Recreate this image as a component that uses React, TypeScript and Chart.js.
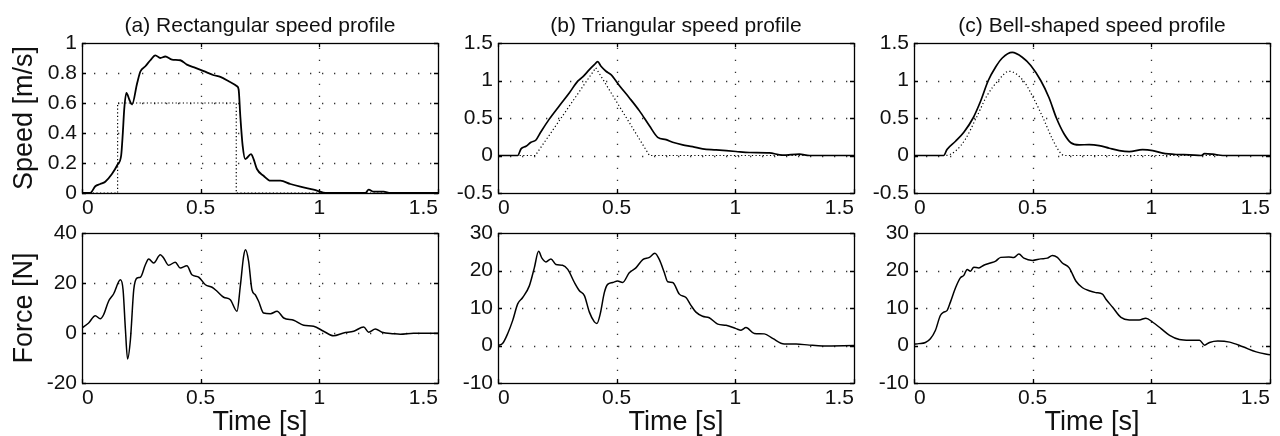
import React, { useEffect, useRef } from "react";
import { Chart, registerables } from "chart.js";

Chart.register(...registerables);

// ---------- tick values ----------
const timeTicks = [0, 0.5, 1, 1.5];
const speedTicksA = [0, 0.2, 0.4, 0.6, 0.8, 1];
const speedTicksBC = [-0.5, 0, 0.5, 1, 1.5];
const forceTicksA = [-20, 0, 20, 40];
const forceTicksBC = [-10, 0, 10, 20, 30];

const panelTitles = [
  "(a) Rectangular speed profile",
  "(b) Triangular speed profile",
  "(c) Bell-shaped speed profile",
];

// ---------- (a) rectangular ----------
const aSpeedT = [0, 0.035, 0.056, 0.077, 0.098, 0.126, 0.15, 0.165, 0.172, 0.178, 0.187, 0.2, 0.211, 0.232, 0.246, 0.267, 0.288, 0.309, 0.33, 0.351, 0.379, 0.414, 0.442, 0.478, 0.513, 0.555, 0.583, 0.618, 0.653, 0.66, 0.667, 0.677, 0.688, 0.712, 0.723, 0.737, 0.765, 0.794, 0.836, 0.878, 0.92, 0.976, 1.032, 1.194, 1.208, 1.229, 1.271, 1.299, 1.5];
const aSpeedV = [0, 0, 0.045, 0.06, 0.075, 0.126, 0.19, 0.25, 0.4, 0.56, 0.668, 0.62, 0.59, 0.73, 0.81, 0.845, 0.885, 0.918, 0.9, 0.91, 0.889, 0.885, 0.856, 0.834, 0.812, 0.785, 0.774, 0.745, 0.712, 0.69, 0.513, 0.314, 0.226, 0.259, 0.226, 0.16, 0.115, 0.082, 0.082, 0.06, 0.042, 0.022, 0, 0, 0.022, 0.009, 0.009, 0, 0];
const aRefT = [0, 0.15, 0.15, 0.65, 0.65, 1.5];
const aRefV = [0, 0, 0.6, 0.6, 0, 0];
const aForceT = [0, 0.028, 0.056, 0.077, 0.091, 0.112, 0.133, 0.162, 0.173, 0.183, 0.192, 0.204, 0.218, 0.232, 0.246, 0.267, 0.281, 0.302, 0.33, 0.344, 0.365, 0.393, 0.414, 0.442, 0.463, 0.492, 0.52, 0.548, 0.569, 0.597, 0.625, 0.653, 0.667, 0.681, 0.689, 0.702, 0.716, 0.73, 0.744, 0.765, 0.794, 0.822, 0.85, 0.892, 0.934, 0.976, 1.018, 1.06, 1.102, 1.145, 1.187, 1.208, 1.236, 1.264, 1.313, 1.341, 1.397, 1.5];
const aForceV = [2, 4, 6.9, 5.7, 7.3, 12.7, 15.6, 21.3, 17.3, 1.3, -10.4, -2.7, 17.3, 22, 22.3, 27.3, 29.6, 28, 31.3, 30, 27.1, 28.3, 26, 26.9, 23.3, 22.3, 19.3, 18.3, 16.7, 14.3, 13.3, 8.7, 18.7, 30.7, 33.3, 28.7, 17.3, 15.3, 12.7, 8, 7.7, 8.7, 6, 5.1, 3.1, 2.7, 0.7, -1.1, 0, 0.7, 2.4, 0.3, 1.6, 0.3, -0.3, -0.5, -0.1, -0.1];

// ---------- (b) triangular ----------
const bSpeedT = [0, 0.083, 0.097, 0.118, 0.139, 0.16, 0.181, 0.216, 0.258, 0.301, 0.336, 0.357, 0.385, 0.406, 0.42, 0.434, 0.455, 0.476, 0.511, 0.553, 0.596, 0.638, 0.673, 0.708, 0.736, 0.778, 0.82, 0.862, 0.919, 1.003, 1.059, 1.143, 1.199, 1.27, 1.312, 1.5];
const bSpeedV = [0, 0, 0.088, 0.123, 0.176, 0.207, 0.317, 0.485, 0.661, 0.837, 0.991, 1.048, 1.145, 1.211, 1.251, 1.189, 1.123, 1.079, 0.934, 0.771, 0.595, 0.396, 0.242, 0.211, 0.176, 0.141, 0.119, 0.088, 0.075, 0.053, 0.04, 0.035, 0.004, 0.018, 0, 0];
const bRefT = [0, 0.157, 0.412, 0.638, 1.5];
const bRefV = [0, 0, 1.17, 0, 0];
const bForceT = [0, 0.02, 0.041, 0.062, 0.083, 0.104, 0.132, 0.153, 0.171, 0.185, 0.202, 0.223, 0.244, 0.272, 0.294, 0.322, 0.343, 0.364, 0.385, 0.406, 0.417, 0.431, 0.448, 0.462, 0.483, 0.504, 0.525, 0.553, 0.581, 0.61, 0.638, 0.661, 0.68, 0.701, 0.715, 0.736, 0.764, 0.792, 0.813, 0.834, 0.862, 0.89, 0.926, 0.961, 1.003, 1.024, 1.045, 1.08, 1.122, 1.157, 1.206, 1.256, 1.312, 1.368, 1.5];
const bForceV = [0, 0.6, 3.2, 6.7, 11.1, 12.8, 15.9, 20.7, 25.1, 23.3, 22.3, 23.1, 21.6, 21.4, 20.3, 16.8, 14.6, 13.3, 8.9, 6.3, 5.9, 8.5, 14.1, 16.3, 16.8, 17.2, 16.8, 19.4, 20.7, 22.9, 23.5, 24.6, 22.9, 19.4, 17, 16.8, 13.7, 12.8, 10.7, 8.9, 7.8, 7.4, 5.7, 5.4, 4.5, 4.1, 4.8, 3.2, 3.1, 1.9, 0.4, 0.4, 0.1, -0.1, 0];

// ---------- (c) bell-shaped ----------
const cSpeedT = [0, 0.125, 0.139, 0.175, 0.21, 0.249, 0.28, 0.313, 0.344, 0.372, 0.414, 0.456, 0.492, 0.534, 0.569, 0.6, 0.632, 0.661, 0.696, 0.738, 0.78, 0.823, 0.865, 0.907, 0.963, 1.006, 1.048, 1.104, 1.161, 1.21, 1.224, 1.259, 1.301, 1.5];
const cSpeedV = [0, 0, 0.08, 0.19, 0.31, 0.5, 0.72, 1.0, 1.18, 1.3, 1.374, 1.31, 1.2, 1.0, 0.77, 0.5, 0.29, 0.17, 0.141, 0.145, 0.132, 0.097, 0.066, 0.053, 0.079, 0.066, 0.031, 0.013, 0.009, 0, 0.026, 0.018, 0, 0];
const cRefT = [0, 0.132, 0.175, 0.217, 0.262, 0.308, 0.355, 0.4, 0.46, 0.506, 0.544, 0.583, 0.611, 0.632, 1.5];
const cRefV = [0, 0, 0.06, 0.22, 0.5, 0.8, 1.0, 1.123, 1.0, 0.75, 0.5, 0.22, 0.06, 0, 0];
const cForceT = [0, 0.02, 0.048, 0.069, 0.09, 0.111, 0.125, 0.139, 0.153, 0.175, 0.196, 0.21, 0.224, 0.238, 0.252, 0.273, 0.294, 0.322, 0.344, 0.365, 0.4, 0.421, 0.442, 0.463, 0.499, 0.534, 0.562, 0.583, 0.604, 0.625, 0.654, 0.682, 0.71, 0.738, 0.766, 0.794, 0.808, 0.837, 0.872, 0.907, 0.949, 0.977, 1.006, 1.041, 1.077, 1.118, 1.161, 1.203, 1.224, 1.245, 1.28, 1.33, 1.386, 1.442, 1.5];
const cForceV = [0.35, 0.5, 0.8, 1.8, 4, 8, 8.9, 9.3, 11.5, 15.4, 18.1, 18.7, 20.3, 19.8, 20.9, 20.7, 21.4, 22, 22.5, 23.5, 23.6, 23.5, 24.4, 23.3, 22.7, 23.1, 23.3, 24, 23.5, 22, 20.7, 17.2, 15.4, 14.6, 14.1, 13.7, 12.4, 10.2, 7.5, 6.8, 6.8, 7.3, 6.2, 4.5, 2.7, 1.6, 1.4, 1.4, 0.1, 0.8, 1.2, 0.9, -0.35, -1.7, -2.5];

// ---------- styling ----------
const FONT = "'Liberation Sans', Arial, Helvetica, sans-serif";
const TEXT = "#111";

const matlabAxes = {
  id: "matlabAxes",
  beforeDatasetsDraw(chart: any) {
    const { ctx, chartArea: a, scales } = chart;
    const x = scales.x, y = scales.y;
    ctx.save();
    ctx.strokeStyle = "#333";
    ctx.lineWidth = 1.3;
    ctx.setLineDash([1.3, 10.7]);
    x.ticks.forEach((t: any) => {
      if (t.value <= x.min || t.value >= x.max) return;
      const px = Math.round(x.getPixelForValue(t.value)) + 0.5;
      ctx.beginPath();
      ctx.moveTo(px, a.bottom);
      ctx.lineTo(px, a.top);
      ctx.stroke();
    });
    y.ticks.forEach((t: any) => {
      if (t.value <= y.min || t.value >= y.max) return;
      const py = Math.round(y.getPixelForValue(t.value)) + 0.5;
      ctx.beginPath();
      ctx.moveTo(a.left, py);
      ctx.lineTo(a.right, py);
      ctx.stroke();
    });
    ctx.restore();
  },
  afterDatasetsDraw(chart: any) {
    const { ctx, chartArea: a, scales } = chart;
    const x = scales.x, y = scales.y;
    ctx.save();
    ctx.setLineDash([]);
    ctx.strokeStyle = "#000";
    ctx.lineWidth = 1.3;
    const L = 4;
    ctx.beginPath();
    x.ticks.forEach((t: any) => {
      const px = Math.round(x.getPixelForValue(t.value)) + 0.5;
      ctx.moveTo(px, a.bottom);
      ctx.lineTo(px, a.bottom - L);
      ctx.moveTo(px, a.top);
      ctx.lineTo(px, a.top + L);
    });
    y.ticks.forEach((t: any) => {
      const py = Math.round(y.getPixelForValue(t.value)) + 0.5;
      ctx.moveTo(a.left, py);
      ctx.lineTo(a.left + L, py);
      ctx.moveTo(a.right, py);
      ctx.lineTo(a.right - L, py);
    });
    ctx.stroke();
    ctx.strokeRect(Math.round(a.left) + 0.5, Math.round(a.top) + 0.5, Math.round(a.right - a.left), Math.round(a.bottom - a.top));
    ctx.restore();
  },
};

type Series = { t: number[]; v: number[]; dotted?: boolean; smooth?: boolean; width?: number };

type PanelProps = {
  left: number;
  top: number;
  width: number;
  height: number;
  padTop: number;
  xHeight: number;
  title?: string;
  yTitle?: string;
  xTitle?: string;
  yMin: number;
  yMax: number;
  yTicks: number[];
  series: Series[];
};

function Panel(p: PanelProps) {
  const ref = useRef<HTMLCanvasElement>(null);
  useEffect(() => {
    const chart = new Chart(ref.current as HTMLCanvasElement, {
      type: "line",
      data: {
        datasets: p.series.map((s) => ({
          data: s.t.map((t, i) => ({ x: t, y: s.v[i] })),
          borderColor: "#000",
          borderWidth: s.width ?? (s.dotted ? 1.2 : 1.5),
          borderDash: s.dotted ? [1.2, 2.4] : [],
          pointRadius: 0,
          fill: false,
          tension: 0,
          cubicInterpolationMode: s.smooth ? "monotone" : "default",
        })),
      },
      options: {
        responsive: false,
        animation: false,
        events: [],
        layout: { padding: { top: p.padTop, right: 10, left: 0, bottom: 0 } },
        plugins: {
          legend: { display: false },
          tooltip: { enabled: false },
          title: p.title
            ? {
                display: true,
                text: p.title,
                fullSize: false,
                color: TEXT,
                font: { family: FONT, size: 21, weight: "normal", lineHeight: 1.2 },
                padding: { top: 13.5, bottom: 4.3 },
              }
            : { display: false },
        },
        scales: {
          x: {
            type: "linear",
            min: 0,
            max: 1.5,
            afterBuildTicks: (s: any) => {
              s.ticks = timeTicks.map((v) => ({ value: v }));
            },
            afterFit: (s: any) => {
              s.height = p.xHeight;
            },
            grid: { display: false, drawTicks: false },
            border: { display: false },
            ticks: {
              color: TEXT,
              font: { family: FONT, size: 21 },
              padding: 3,
              align: "inner",
              maxRotation: 0,
              autoSkip: false,
              callback: (v: any) => String(v),
            },
            title: p.xTitle
              ? {
                  display: true,
                  text: p.xTitle,
                  color: TEXT,
                  font: { family: FONT, size: 27, lineHeight: 1 },
                  padding: { top: 0, bottom: 0 },
                }
              : { display: false },
          },
          y: {
            type: "linear",
            min: p.yMin,
            max: p.yMax,
            afterBuildTicks: (s: any) => {
              s.ticks = p.yTicks.map((v) => ({ value: v }));
            },
            afterFit: (s: any) => {
              s.width = 82;
            },
            grid: { display: false, drawTicks: false },
            border: { display: false },
            ticks: {
              color: TEXT,
              font: { family: FONT, size: 21 },
              padding: 5,
              autoSkip: false,
              callback: (v: any) => String(v),
            },
            title: p.yTitle
              ? {
                  display: true,
                  text: p.yTitle,
                  color: TEXT,
                  font: { family: FONT, size: 27, lineHeight: 1 },
                  padding: { top: 11.5, bottom: 0 },
                }
              : { display: false },
          },
        },
      } as any,
      plugins: [matlabAxes as any],
    });
    return () => chart.destroy();
  }, []);
  return (
    <canvas
      ref={ref}
      width={p.width}
      height={p.height}
      style={{ position: "absolute", left: p.left, top: p.top, width: p.width, height: p.height }}
    />
  );
}

const plotLefts = [82, 498, 914];
const PANEL_W = 82 + 356 + 10;

export default function App() {
  const speedSeries: Series[][] = [
    [
      { t: aRefT, v: aRefV, dotted: true },
      { t: aSpeedT, v: aSpeedV, smooth: true, width: 1.8 },
    ],
    [
      { t: bRefT, v: bRefV, dotted: true },
      { t: bSpeedT, v: bSpeedV, smooth: true, width: 1.7 },
    ],
    [
      { t: cRefT, v: cRefV, dotted: true, smooth: true },
      { t: cSpeedT, v: cSpeedV, smooth: true, width: 1.7 },
    ],
  ];
  const forceSeries: Series[][] = [
    [{ t: aForceT, v: aForceV, smooth: true, width: 1.5 }],
    [{ t: bForceT, v: bForceV, smooth: true, width: 1.5 }],
    [{ t: cForceT, v: cForceV, smooth: true, width: 1.5 }],
  ];
  return (
    <div
      style={{
        position: "absolute",
        left: 0,
        top: 0,
        width: 1280,
        height: 436,
        overflow: "hidden",
        background: "#fff",
      }}
    >
      {plotLefts.map((pl, i) => (
        <Panel
          key={"s" + i}
          left={pl - 82}
          top={0}
          width={PANEL_W}
          height={223}
          padTop={0}
          xHeight={30}
          title={panelTitles[i]}
          yTitle={i === 0 ? "Speed [m/s]" : undefined}
          yMin={i === 0 ? 0 : -0.5}
          yMax={i === 0 ? 1 : 1.5}
          yTicks={i === 0 ? speedTicksA : speedTicksBC}
          series={speedSeries[i]}
        />
      ))}
      {plotLefts.map((pl, i) => (
        <Panel
          key={"f" + i}
          left={pl - 82}
          top={210}
          width={PANEL_W}
          height={226}
          padTop={23}
          xHeight={53}
          xTitle="Time [s]"
          yTitle={i === 0 ? "Force [N]" : undefined}
          yMin={i === 0 ? -20 : -10}
          yMax={i === 0 ? 40 : 30}
          yTicks={i === 0 ? forceTicksA : forceTicksBC}
          series={forceSeries[i]}
        />
      ))}
    </div>
  );
}
